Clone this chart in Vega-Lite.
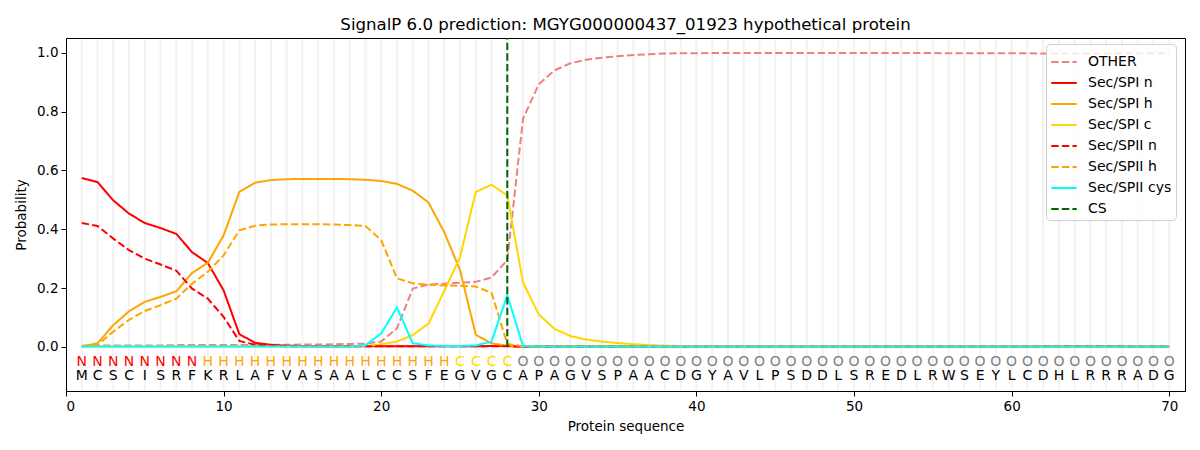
{
  "$schema": "https://vega.github.io/schema/vega-lite/v6.json",
  "width": 1119,
  "height": 353,
  "autosize": {"type": "none"},
  "padding": {"left": 66, "top": 38, "right": 15, "bottom": 59},
  "background": "white",
  "title": {
    "text": "SignalP 6.0 prediction: MGYG000000437_01923 hypothetical protein",
    "font": "DejaVu Sans",
    "fontSize": 16.6,
    "fontWeight": "normal",
    "color": "black",
    "offset": 3
  },
  "data": {
    "values": [
      {"pos": 1, "aa": "M", "label": "N", "OTHER": 0.004, "Sec/SPI n": 0.574, "Sec/SPI h": 0.002, "Sec/SPI c": 0.001, "Sec/SPII n": 0.421, "Sec/SPII h": 0.001, "Sec/SPII cys": 0.001},
      {"pos": 2, "aa": "C", "label": "N", "OTHER": 0.004, "Sec/SPI n": 0.560, "Sec/SPI h": 0.012, "Sec/SPI c": 0.001, "Sec/SPII n": 0.411, "Sec/SPII h": 0.006, "Sec/SPII cys": 0.001},
      {"pos": 3, "aa": "S", "label": "N", "OTHER": 0.005, "Sec/SPI n": 0.498, "Sec/SPI h": 0.074, "Sec/SPI c": 0.001, "Sec/SPII n": 0.368, "Sec/SPII h": 0.052, "Sec/SPII cys": 0.001},
      {"pos": 4, "aa": "C", "label": "N", "OTHER": 0.005, "Sec/SPI n": 0.453, "Sec/SPI h": 0.121, "Sec/SPI c": 0.001, "Sec/SPII n": 0.329, "Sec/SPII h": 0.092, "Sec/SPII cys": 0.001},
      {"pos": 5, "aa": "I", "label": "N", "OTHER": 0.005, "Sec/SPI n": 0.421, "Sec/SPI h": 0.153, "Sec/SPI c": 0.001, "Sec/SPII n": 0.300, "Sec/SPII h": 0.122, "Sec/SPII cys": 0.001},
      {"pos": 6, "aa": "S", "label": "N", "OTHER": 0.005, "Sec/SPI n": 0.404, "Sec/SPI h": 0.170, "Sec/SPI c": 0.001, "Sec/SPII n": 0.280, "Sec/SPII h": 0.142, "Sec/SPII cys": 0.001},
      {"pos": 7, "aa": "R", "label": "N", "OTHER": 0.006, "Sec/SPI n": 0.384, "Sec/SPI h": 0.189, "Sec/SPI c": 0.001, "Sec/SPII n": 0.259, "Sec/SPII h": 0.164, "Sec/SPII cys": 0.001},
      {"pos": 8, "aa": "F", "label": "N", "OTHER": 0.006, "Sec/SPI n": 0.322, "Sec/SPI h": 0.251, "Sec/SPI c": 0.001, "Sec/SPII n": 0.198, "Sec/SPII h": 0.215, "Sec/SPII cys": 0.001},
      {"pos": 9, "aa": "K", "label": "H", "OTHER": 0.006, "Sec/SPI n": 0.285, "Sec/SPI h": 0.286, "Sec/SPI c": 0.001, "Sec/SPII n": 0.164, "Sec/SPII h": 0.255, "Sec/SPII cys": 0.001},
      {"pos": 10, "aa": "R", "label": "H", "OTHER": 0.006, "Sec/SPI n": 0.192, "Sec/SPI h": 0.379, "Sec/SPI c": 0.001, "Sec/SPII n": 0.102, "Sec/SPII h": 0.311, "Sec/SPII cys": 0.001},
      {"pos": 11, "aa": "L", "label": "H", "OTHER": 0.006, "Sec/SPI n": 0.043, "Sec/SPI h": 0.527, "Sec/SPI c": 0.001, "Sec/SPII n": 0.020, "Sec/SPII h": 0.396, "Sec/SPII cys": 0.001},
      {"pos": 12, "aa": "A", "label": "H", "OTHER": 0.007, "Sec/SPI n": 0.014, "Sec/SPI h": 0.558, "Sec/SPI c": 0.001, "Sec/SPII n": 0.007, "Sec/SPII h": 0.412, "Sec/SPII cys": 0.001},
      {"pos": 13, "aa": "F", "label": "H", "OTHER": 0.007, "Sec/SPI n": 0.007, "Sec/SPI h": 0.567, "Sec/SPI c": 0.001, "Sec/SPII n": 0.004, "Sec/SPII h": 0.416, "Sec/SPII cys": 0.001},
      {"pos": 14, "aa": "V", "label": "H", "OTHER": 0.007, "Sec/SPI n": 0.004, "Sec/SPI h": 0.570, "Sec/SPI c": 0.001, "Sec/SPII n": 0.002, "Sec/SPII h": 0.417, "Sec/SPII cys": 0.001},
      {"pos": 15, "aa": "A", "label": "H", "OTHER": 0.008, "Sec/SPI n": 0.003, "Sec/SPI h": 0.571, "Sec/SPI c": 0.001, "Sec/SPII n": 0.002, "Sec/SPII h": 0.417, "Sec/SPII cys": 0.001},
      {"pos": 16, "aa": "S", "label": "H", "OTHER": 0.008, "Sec/SPI n": 0.002, "Sec/SPI h": 0.571, "Sec/SPI c": 0.001, "Sec/SPII n": 0.002, "Sec/SPII h": 0.417, "Sec/SPII cys": 0.001},
      {"pos": 17, "aa": "A", "label": "H", "OTHER": 0.009, "Sec/SPI n": 0.002, "Sec/SPI h": 0.571, "Sec/SPI c": 0.001, "Sec/SPII n": 0.002, "Sec/SPII h": 0.416, "Sec/SPII cys": 0.001},
      {"pos": 18, "aa": "A", "label": "H", "OTHER": 0.010, "Sec/SPI n": 0.002, "Sec/SPI h": 0.570, "Sec/SPI c": 0.002, "Sec/SPII n": 0.002, "Sec/SPII h": 0.414, "Sec/SPII cys": 0.001},
      {"pos": 19, "aa": "L", "label": "H", "OTHER": 0.011, "Sec/SPI n": 0.002, "Sec/SPI h": 0.568, "Sec/SPI c": 0.003, "Sec/SPII n": 0.002, "Sec/SPII h": 0.411, "Sec/SPII cys": 0.005},
      {"pos": 20, "aa": "C", "label": "H", "OTHER": 0.018, "Sec/SPI n": 0.002, "Sec/SPI h": 0.564, "Sec/SPI c": 0.009, "Sec/SPII n": 0.002, "Sec/SPII h": 0.363, "Sec/SPII cys": 0.046},
      {"pos": 21, "aa": "C", "label": "H", "OTHER": 0.063, "Sec/SPI n": 0.002, "Sec/SPI h": 0.554, "Sec/SPI c": 0.018, "Sec/SPII n": 0.002, "Sec/SPII h": 0.233, "Sec/SPII cys": 0.134},
      {"pos": 22, "aa": "S", "label": "H", "OTHER": 0.198, "Sec/SPI n": 0.002, "Sec/SPI h": 0.531, "Sec/SPI c": 0.040, "Sec/SPII n": 0.002, "Sec/SPII h": 0.216, "Sec/SPII cys": 0.012},
      {"pos": 23, "aa": "F", "label": "H", "OTHER": 0.212, "Sec/SPI n": 0.002, "Sec/SPI h": 0.491, "Sec/SPI c": 0.079, "Sec/SPII n": 0.002, "Sec/SPII h": 0.211, "Sec/SPII cys": 0.005},
      {"pos": 24, "aa": "E", "label": "H", "OTHER": 0.215, "Sec/SPI n": 0.002, "Sec/SPI h": 0.390, "Sec/SPI c": 0.190, "Sec/SPII n": 0.002, "Sec/SPII h": 0.209, "Sec/SPII cys": 0.003},
      {"pos": 25, "aa": "G", "label": "C", "OTHER": 0.218, "Sec/SPI n": 0.002, "Sec/SPI h": 0.261, "Sec/SPI c": 0.305, "Sec/SPII n": 0.002, "Sec/SPII h": 0.208, "Sec/SPII cys": 0.003},
      {"pos": 26, "aa": "V", "label": "C", "OTHER": 0.221, "Sec/SPI n": 0.002, "Sec/SPI h": 0.041, "Sec/SPI c": 0.527, "Sec/SPII n": 0.002, "Sec/SPII h": 0.205, "Sec/SPII cys": 0.005},
      {"pos": 27, "aa": "G", "label": "C", "OTHER": 0.236, "Sec/SPI n": 0.003, "Sec/SPI h": 0.012, "Sec/SPI c": 0.551, "Sec/SPII n": 0.002, "Sec/SPII h": 0.184, "Sec/SPII cys": 0.018},
      {"pos": 28, "aa": "C", "label": "C", "OTHER": 0.295, "Sec/SPI n": 0.003, "Sec/SPI h": 0.004, "Sec/SPI c": 0.515, "Sec/SPII n": 0.002, "Sec/SPII h": 0.010, "Sec/SPII cys": 0.176},
      {"pos": 29, "aa": "A", "label": "O", "OTHER": 0.776, "Sec/SPI n": 0.001, "Sec/SPI h": 0.002, "Sec/SPI c": 0.219, "Sec/SPII n": 0.001, "Sec/SPII h": 0.002, "Sec/SPII cys": 0.003},
      {"pos": 30, "aa": "P", "label": "O", "OTHER": 0.893, "Sec/SPI n": 0.001, "Sec/SPI h": 0.001, "Sec/SPI c": 0.110, "Sec/SPII n": 0.001, "Sec/SPII h": 0.001, "Sec/SPII cys": 0.001},
      {"pos": 31, "aa": "A", "label": "O", "OTHER": 0.940, "Sec/SPI n": 0.001, "Sec/SPI h": 0.001, "Sec/SPI c": 0.061, "Sec/SPII n": 0.001, "Sec/SPII h": 0.001, "Sec/SPII cys": 0.001},
      {"pos": 32, "aa": "G", "label": "O", "OTHER": 0.964, "Sec/SPI n": 0.001, "Sec/SPI h": 0.001, "Sec/SPI c": 0.037, "Sec/SPII n": 0.001, "Sec/SPII h": 0.001, "Sec/SPII cys": 0.001},
      {"pos": 33, "aa": "V", "label": "O", "OTHER": 0.976, "Sec/SPI n": 0.001, "Sec/SPI h": 0.001, "Sec/SPI c": 0.025, "Sec/SPII n": 0.001, "Sec/SPII h": 0.001, "Sec/SPII cys": 0.001},
      {"pos": 34, "aa": "S", "label": "O", "OTHER": 0.983, "Sec/SPI n": 0.001, "Sec/SPI h": 0.001, "Sec/SPI c": 0.018, "Sec/SPII n": 0.001, "Sec/SPII h": 0.001, "Sec/SPII cys": 0.001},
      {"pos": 35, "aa": "P", "label": "O", "OTHER": 0.988, "Sec/SPI n": 0.001, "Sec/SPI h": 0.001, "Sec/SPI c": 0.013, "Sec/SPII n": 0.001, "Sec/SPII h": 0.001, "Sec/SPII cys": 0.001},
      {"pos": 36, "aa": "A", "label": "O", "OTHER": 0.992, "Sec/SPI n": 0.001, "Sec/SPI h": 0.001, "Sec/SPI c": 0.009, "Sec/SPII n": 0.001, "Sec/SPII h": 0.001, "Sec/SPII cys": 0.001},
      {"pos": 37, "aa": "A", "label": "O", "OTHER": 0.995, "Sec/SPI n": 0.001, "Sec/SPI h": 0.001, "Sec/SPI c": 0.006, "Sec/SPII n": 0.001, "Sec/SPII h": 0.001, "Sec/SPII cys": 0.001},
      {"pos": 38, "aa": "C", "label": "O", "OTHER": 0.997, "Sec/SPI n": 0.001, "Sec/SPI h": 0.001, "Sec/SPI c": 0.004, "Sec/SPII n": 0.001, "Sec/SPII h": 0.001, "Sec/SPII cys": 0.001},
      {"pos": 39, "aa": "D", "label": "O", "OTHER": 0.998, "Sec/SPI n": 0.001, "Sec/SPI h": 0.001, "Sec/SPI c": 0.003, "Sec/SPII n": 0.001, "Sec/SPII h": 0.001, "Sec/SPII cys": 0.001},
      {"pos": 40, "aa": "G", "label": "O", "OTHER": 0.998, "Sec/SPI n": 0.001, "Sec/SPI h": 0.001, "Sec/SPI c": 0.002, "Sec/SPII n": 0.001, "Sec/SPII h": 0.001, "Sec/SPII cys": 0.001},
      {"pos": 41, "aa": "Y", "label": "O", "OTHER": 0.999, "Sec/SPI n": 0.001, "Sec/SPI h": 0.001, "Sec/SPI c": 0.001, "Sec/SPII n": 0.001, "Sec/SPII h": 0.001, "Sec/SPII cys": 0.001},
      {"pos": 42, "aa": "A", "label": "O", "OTHER": 0.999, "Sec/SPI n": 0.001, "Sec/SPI h": 0.001, "Sec/SPI c": 0.001, "Sec/SPII n": 0.001, "Sec/SPII h": 0.001, "Sec/SPII cys": 0.001},
      {"pos": 43, "aa": "V", "label": "O", "OTHER": 0.999, "Sec/SPI n": 0.001, "Sec/SPI h": 0.001, "Sec/SPI c": 0.001, "Sec/SPII n": 0.001, "Sec/SPII h": 0.001, "Sec/SPII cys": 0.001},
      {"pos": 44, "aa": "L", "label": "O", "OTHER": 0.999, "Sec/SPI n": 0.001, "Sec/SPI h": 0.001, "Sec/SPI c": 0.001, "Sec/SPII n": 0.001, "Sec/SPII h": 0.001, "Sec/SPII cys": 0.001},
      {"pos": 45, "aa": "P", "label": "O", "OTHER": 0.999, "Sec/SPI n": 0.001, "Sec/SPI h": 0.001, "Sec/SPI c": 0.001, "Sec/SPII n": 0.001, "Sec/SPII h": 0.001, "Sec/SPII cys": 0.001},
      {"pos": 46, "aa": "S", "label": "O", "OTHER": 0.999, "Sec/SPI n": 0.001, "Sec/SPI h": 0.001, "Sec/SPI c": 0.001, "Sec/SPII n": 0.001, "Sec/SPII h": 0.001, "Sec/SPII cys": 0.001},
      {"pos": 47, "aa": "D", "label": "O", "OTHER": 0.999, "Sec/SPI n": 0.001, "Sec/SPI h": 0.001, "Sec/SPI c": 0.001, "Sec/SPII n": 0.001, "Sec/SPII h": 0.001, "Sec/SPII cys": 0.001},
      {"pos": 48, "aa": "D", "label": "O", "OTHER": 0.999, "Sec/SPI n": 0.001, "Sec/SPI h": 0.001, "Sec/SPI c": 0.001, "Sec/SPII n": 0.001, "Sec/SPII h": 0.001, "Sec/SPII cys": 0.001},
      {"pos": 49, "aa": "L", "label": "O", "OTHER": 0.999, "Sec/SPI n": 0.001, "Sec/SPI h": 0.001, "Sec/SPI c": 0.001, "Sec/SPII n": 0.001, "Sec/SPII h": 0.001, "Sec/SPII cys": 0.001},
      {"pos": 50, "aa": "S", "label": "O", "OTHER": 0.999, "Sec/SPI n": 0.001, "Sec/SPI h": 0.001, "Sec/SPI c": 0.001, "Sec/SPII n": 0.001, "Sec/SPII h": 0.001, "Sec/SPII cys": 0.001},
      {"pos": 51, "aa": "R", "label": "O", "OTHER": 0.999, "Sec/SPI n": 0.001, "Sec/SPI h": 0.001, "Sec/SPI c": 0.001, "Sec/SPII n": 0.001, "Sec/SPII h": 0.001, "Sec/SPII cys": 0.001},
      {"pos": 52, "aa": "E", "label": "O", "OTHER": 0.999, "Sec/SPI n": 0.001, "Sec/SPI h": 0.001, "Sec/SPI c": 0.001, "Sec/SPII n": 0.001, "Sec/SPII h": 0.001, "Sec/SPII cys": 0.001},
      {"pos": 53, "aa": "D", "label": "O", "OTHER": 0.999, "Sec/SPI n": 0.001, "Sec/SPI h": 0.001, "Sec/SPI c": 0.001, "Sec/SPII n": 0.001, "Sec/SPII h": 0.001, "Sec/SPII cys": 0.001},
      {"pos": 54, "aa": "L", "label": "O", "OTHER": 0.999, "Sec/SPI n": 0.001, "Sec/SPI h": 0.001, "Sec/SPI c": 0.001, "Sec/SPII n": 0.001, "Sec/SPII h": 0.001, "Sec/SPII cys": 0.001},
      {"pos": 55, "aa": "R", "label": "O", "OTHER": 0.999, "Sec/SPI n": 0.001, "Sec/SPI h": 0.001, "Sec/SPI c": 0.001, "Sec/SPII n": 0.001, "Sec/SPII h": 0.001, "Sec/SPII cys": 0.001},
      {"pos": 56, "aa": "W", "label": "O", "OTHER": 0.998, "Sec/SPI n": 0.001, "Sec/SPI h": 0.001, "Sec/SPI c": 0.001, "Sec/SPII n": 0.001, "Sec/SPII h": 0.001, "Sec/SPII cys": 0.001},
      {"pos": 57, "aa": "S", "label": "O", "OTHER": 0.998, "Sec/SPI n": 0.001, "Sec/SPI h": 0.001, "Sec/SPI c": 0.001, "Sec/SPII n": 0.001, "Sec/SPII h": 0.001, "Sec/SPII cys": 0.001},
      {"pos": 58, "aa": "E", "label": "O", "OTHER": 0.998, "Sec/SPI n": 0.001, "Sec/SPI h": 0.001, "Sec/SPI c": 0.001, "Sec/SPII n": 0.001, "Sec/SPII h": 0.001, "Sec/SPII cys": 0.001},
      {"pos": 59, "aa": "Y", "label": "O", "OTHER": 0.998, "Sec/SPI n": 0.001, "Sec/SPI h": 0.001, "Sec/SPI c": 0.001, "Sec/SPII n": 0.001, "Sec/SPII h": 0.001, "Sec/SPII cys": 0.001},
      {"pos": 60, "aa": "L", "label": "O", "OTHER": 0.998, "Sec/SPI n": 0.001, "Sec/SPI h": 0.001, "Sec/SPI c": 0.001, "Sec/SPII n": 0.001, "Sec/SPII h": 0.001, "Sec/SPII cys": 0.001},
      {"pos": 61, "aa": "C", "label": "O", "OTHER": 0.998, "Sec/SPI n": 0.001, "Sec/SPI h": 0.001, "Sec/SPI c": 0.001, "Sec/SPII n": 0.001, "Sec/SPII h": 0.001, "Sec/SPII cys": 0.001},
      {"pos": 62, "aa": "D", "label": "O", "OTHER": 0.997, "Sec/SPI n": 0.001, "Sec/SPI h": 0.001, "Sec/SPI c": 0.001, "Sec/SPII n": 0.002, "Sec/SPII h": 0.001, "Sec/SPII cys": 0.001},
      {"pos": 63, "aa": "H", "label": "O", "OTHER": 0.997, "Sec/SPI n": 0.001, "Sec/SPI h": 0.001, "Sec/SPI c": 0.001, "Sec/SPII n": 0.002, "Sec/SPII h": 0.001, "Sec/SPII cys": 0.001},
      {"pos": 64, "aa": "L", "label": "O", "OTHER": 0.997, "Sec/SPI n": 0.001, "Sec/SPI h": 0.001, "Sec/SPI c": 0.001, "Sec/SPII n": 0.002, "Sec/SPII h": 0.001, "Sec/SPII cys": 0.001},
      {"pos": 65, "aa": "R", "label": "O", "OTHER": 0.997, "Sec/SPI n": 0.001, "Sec/SPI h": 0.001, "Sec/SPI c": 0.001, "Sec/SPII n": 0.002, "Sec/SPII h": 0.001, "Sec/SPII cys": 0.001},
      {"pos": 66, "aa": "R", "label": "O", "OTHER": 0.997, "Sec/SPI n": 0.001, "Sec/SPI h": 0.001, "Sec/SPI c": 0.001, "Sec/SPII n": 0.002, "Sec/SPII h": 0.001, "Sec/SPII cys": 0.001},
      {"pos": 67, "aa": "R", "label": "O", "OTHER": 0.998, "Sec/SPI n": 0.001, "Sec/SPI h": 0.001, "Sec/SPI c": 0.001, "Sec/SPII n": 0.002, "Sec/SPII h": 0.001, "Sec/SPII cys": 0.001},
      {"pos": 68, "aa": "A", "label": "O", "OTHER": 0.998, "Sec/SPI n": 0.001, "Sec/SPI h": 0.001, "Sec/SPI c": 0.001, "Sec/SPII n": 0.001, "Sec/SPII h": 0.001, "Sec/SPII cys": 0.001},
      {"pos": 69, "aa": "D", "label": "O", "OTHER": 0.998, "Sec/SPI n": 0.001, "Sec/SPI h": 0.001, "Sec/SPI c": 0.001, "Sec/SPII n": 0.001, "Sec/SPII h": 0.001, "Sec/SPII cys": 0.001},
      {"pos": 70, "aa": "G", "label": "O", "OTHER": 0.998, "Sec/SPI n": 0.001, "Sec/SPI h": 0.001, "Sec/SPI c": 0.001, "Sec/SPII n": 0.001, "Sec/SPII h": 0.001, "Sec/SPII cys": 0.001}
    ]
  },
  "encoding": {
    "x": {
      "field": "pos",
      "type": "quantitative",
      "title": "Protein sequence",
      "scale": {"domain": [0, 71], "nice": false, "zero": false},
      "axis": {"values": [0, 10, 20, 30, 40, 50, 60, 70], "titlePadding": 7}
    }
  },
  "layer": [
    {
      "mark": {"type": "rule", "color": "#f2f2f2", "strokeWidth": 2},
      "encoding": {
        "y": {"datum": 1.047, "type": "quantitative"},
        "y2": {"datum": -0.147}
      }
    },
    {
      "transform": [
        {"fold": ["OTHER", "Sec/SPI n", "Sec/SPI h", "Sec/SPI c", "Sec/SPII n", "Sec/SPII h", "Sec/SPII cys"], "as": ["series", "prob"]}
      ],
      "mark": {"type": "line", "strokeWidth": 2},
      "encoding": {
        "y": {
          "field": "prob",
          "type": "quantitative",
          "title": "Probability",
          "scale": {"domain": [-0.15, 1.05], "nice": false, "zero": false},
          "axis": {"values": [0, 0.2, 0.4, 0.6, 0.8, 1.0], "format": ".1f", "titlePadding": 8}
        },
        "color": {
          "field": "series",
          "type": "nominal",
          "title": null,
          "scale": {
            "domain": ["OTHER", "Sec/SPI n", "Sec/SPI h", "Sec/SPI c", "Sec/SPII n", "Sec/SPII h", "Sec/SPII cys", "CS"],
            "range": ["#f08080", "#ff0000", "#ffa500", "#ffd700", "#ff0000", "#ffa500", "#00ffff", "#006400"]
          }
        },
        "strokeDash": {
          "field": "series",
          "type": "nominal",
          "title": null,
          "scale": {
            "domain": ["OTHER", "Sec/SPI n", "Sec/SPI h", "Sec/SPI c", "Sec/SPII n", "Sec/SPII h", "Sec/SPII cys", "CS"],
            "range": [[7.4, 3.2], [1, 0], [1, 0], [1, 0], [7.4, 3.2], [7.4, 3.2], [1, 0], [7.4, 3.2]]
          }
        }
      }
    },
    {
      "data": {"values": [{"pos": 28, "series": "CS"}]},
      "mark": {"type": "rule", "strokeWidth": 2},
      "encoding": {
        "y": {"datum": 0, "type": "quantitative"},
        "y2": {"datum": 1.05},
        "color": {"field": "series", "type": "nominal"},
        "strokeDash": {"field": "series", "type": "nominal"}
      }
    },
    {
      "mark": {"type": "text", "font": "DejaVu Sans", "fontSize": 14, "baseline": "middle"},
      "encoding": {
        "y": {"datum": -0.05, "type": "quantitative"},
        "text": {"field": "label"},
        "color": {
          "condition": [
            {"test": "datum.label === 'N'", "value": "#ff0000"},
            {"test": "datum.label === 'H'", "value": "#ffa500"},
            {"test": "datum.label === 'C'", "value": "#ffd700"}
          ],
          "value": "#808080"
        }
      }
    },
    {
      "mark": {"type": "text", "font": "DejaVu Sans", "fontSize": 14, "baseline": "middle", "color": "black"},
      "encoding": {
        "y": {"datum": -0.1, "type": "quantitative"},
        "text": {"field": "aa"}
      }
    }
  ],
  "config": {
    "view": {"stroke": "black", "strokeWidth": 1},
    "axis": {
      "grid": false,
      "domainColor": "black",
      "tickColor": "black",
      "labelColor": "black",
      "titleColor": "black",
      "labelFont": "DejaVu Sans",
      "titleFont": "DejaVu Sans",
      "labelFontSize": 13.5,
      "titleFontSize": 13.5,
      "titleFontWeight": "normal",
      "tickSize": 5,
      "labelPadding": 3
    },
    "legend": {
      "orient": "none",
      "legendX": 980,
      "legendY": 6,
      "symbolType": "stroke",
      "symbolStrokeWidth": 2,
      "symbolSize": 650,
      "labelFont": "DejaVu Sans",
      "labelFontSize": 14,
      "labelColor": "black",
      "labelOffset": 10,
      "padding": 4,
      "rowPadding": 0,
      "fillColor": "rgba(255,255,255,0.8)",
      "strokeColor": "#d0d0d0",
      "cornerRadius": 4
    }
  }
}
